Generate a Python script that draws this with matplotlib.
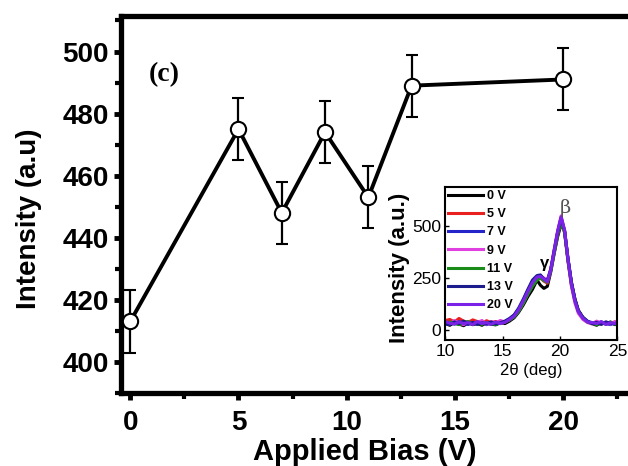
import matplotlib
matplotlib.use("Agg")
import matplotlib.pyplot as plt
from matplotlib.ticker import MultipleLocator

plt.rcParams['font.family'] = ['Liberation Sans', 'DejaVu Sans']

# main data
bias = [0, 5, 7, 9, 11, 13, 20]
intensity = [413, 475, 448, 474, 453, 489, 491]
err = [10, 10, 10, 10, 10, 10, 10]

# inset XRD data
two_theta = [10, 10.4, 10.8, 11.2, 11.6, 12, 12.4, 12.8, 13.2, 13.6, 14, 14.4, 14.8, 15.2,
             15.6, 16, 16.4, 16.8, 17.2, 17.6, 18, 18.3, 18.6, 18.9, 19.2, 19.5, 19.8, 20.1,
             20.4, 20.7, 21, 21.3, 21.6, 22, 22.4, 22.8, 23.2, 23.6, 24, 24.4, 24.8, 25]
xrd_0 = [30, 22, 35, 28, 20, 33, 25, 30, 22, 34, 27, 24, 36, 30, 42, 58, 85, 120, 160, 195, 240,
         215, 200, 210, 280, 370, 450, 510, 480, 340, 230, 150, 95, 60, 40, 30, 22, 35, 28, 38, 25, 30]
xrd_5 = [45, 50, 38, 55, 42, 36, 48, 40, 30, 44, 35, 40, 30, 38, 50, 68, 95, 135, 180, 230, 255,
         250, 235, 225, 290, 375, 460, 530, 470, 330, 215, 140, 88, 55, 38, 30, 40, 28, 35, 30, 38, 28]
xrd_7 = [25, 35, 28, 40, 30, 26, 35, 28, 38, 25, 32, 28, 35, 40, 52, 70, 100, 140, 190, 225, 250,
         255, 240, 235, 290, 380, 470, 535, 475, 340, 225, 145, 90, 58, 40, 35, 28, 38, 30, 25, 35, 30]
xrd_9 = [35, 28, 45, 32, 25, 40, 30, 35, 45, 28, 40, 33, 45, 38, 48, 65, 92, 130, 175, 215, 245,
         260, 250, 240, 295, 390, 480, 550, 480, 335, 210, 130, 80, 50, 35, 28, 42, 30, 38, 28, 40, 32]
xrd_11 = [28, 38, 30, 25, 35, 40, 28, 32, 26, 36, 30, 25, 32, 36, 48, 62, 90, 128, 172, 210, 240,
          250, 238, 230, 285, 372, 462, 520, 470, 335, 220, 142, 90, 58, 38, 32, 25, 33, 28, 36, 26, 30]
xrd_13 = [32, 25, 38, 30, 42, 28, 36, 26, 34, 30, 38, 28, 34, 42, 55, 72, 105, 148, 195, 240, 262,
          265, 245, 238, 292, 385, 472, 540, 478, 345, 228, 148, 92, 60, 42, 30, 36, 26, 38, 32, 28, 35]
xrd_20 = [40, 32, 28, 38, 30, 35, 25, 40, 30, 35, 26, 38, 30, 36, 50, 66, 98, 140, 185, 228, 255,
          258, 245, 232, 288, 382, 475, 545, 482, 340, 222, 140, 88, 56, 38, 35, 30, 40, 26, 34, 30, 36]
xrd_labels = ["0 V", "5 V", "7 V", "9 V", "11 V", "13 V", "20 V"]
xrd_colors = ["black", "#e8201e", "#2424c8", "#e040e0", "#1a8c1a", "#1c1c8c", "#7a22e8"]
xrd_series = [xrd_0, xrd_5, xrd_7, xrd_9, xrd_11, xrd_13, xrd_20]

fig = plt.figure(figsize=(6.28, 4.66), dpi=100)
ax = fig.add_axes([0.193, 0.157, 0.807, 0.809])

ax.errorbar(bias, intensity, yerr=err, color="black", lw=2.8, marker="o", ms=11,
            mfc="white", mec="black", mew=1.5, ecolor="black", elinewidth=1.6,
            capsize=4, capthick=1.8, zorder=3)

ax.set_xlim(-0.42, 23.0)
ax.set_ylim(390, 511.5)
ax.xaxis.set_major_locator(MultipleLocator(5))
ax.xaxis.set_minor_locator(MultipleLocator(2.5))
ax.yaxis.set_major_locator(MultipleLocator(20))
ax.yaxis.set_minor_locator(MultipleLocator(10))
for s in ["left", "bottom", "top"]:
    ax.spines[s].set_linewidth(3.8)
ax.spines["right"].set_visible(False)
ax.tick_params(which="major", length=5, width=3.5, labelsize=20)
ax.tick_params(which="minor", length=4, width=3)
ax.tick_params(axis="x", which="major", pad=7)
ax.tick_params(axis="y", which="major", pad=4)
for lab in ax.get_xticklabels() + ax.get_yticklabels():
    lab.set_fontweight("bold")
ax.set_xlabel("Applied Bias (V)", fontsize=21, fontweight="bold")
ax.set_ylabel("Intensity (a.u)", fontsize=20, fontweight="bold")
ax.xaxis.set_label_coords(0.481, -0.121)
ax.yaxis.set_label_coords(-0.156, 0.462)
ax.text(1.55, 492.5, "(c)", fontsize=20, fontweight="bold", family="Liberation Serif",
        ha="center", va="center")

# inset
ins = fig.add_axes([0.709, 0.270, 0.274, 0.329])
for y, lab, c in zip(xrd_series, xrd_labels, xrd_colors):
    ins.plot(two_theta, y, color=c, lw=2.2, label=lab)
ins.set_xlim(10, 25)
ins.set_ylim(-50, 690)
ins.set_xticks([10, 15, 20, 25])
ins.set_yticks([0, 250, 500])
ins.tick_params(direction="in", length=3, width=1, labelsize=12.5, pad=3)
for s in ins.spines.values():
    s.set_linewidth(1.5)
ins.set_xlabel("2θ (deg)", fontsize=12)
ins.set_ylabel("Intensity (a.u.)", fontsize=16, fontweight="bold")
ins.xaxis.set_label_coords(0.5, -0.15)
ins.yaxis.set_label_coords(-0.203, 0.47)
ins.text(18.7, 320, "γ", fontsize=12, fontweight="bold", ha="center", va="center")
ins.text(20.5, 590, "β", fontsize=14, color="#555555", family="DejaVu Serif",
         ha="center", va="center")
leg = ins.legend(loc="upper left", frameon=False, fontsize=9, handlelength=2.75,
                 labelspacing=0.5, borderaxespad=0.15, borderpad=0.1, handletextpad=0.3)
for t in leg.get_texts():
    t.set_fontweight("bold")

fig.savefig("out.png", dpi=100)
